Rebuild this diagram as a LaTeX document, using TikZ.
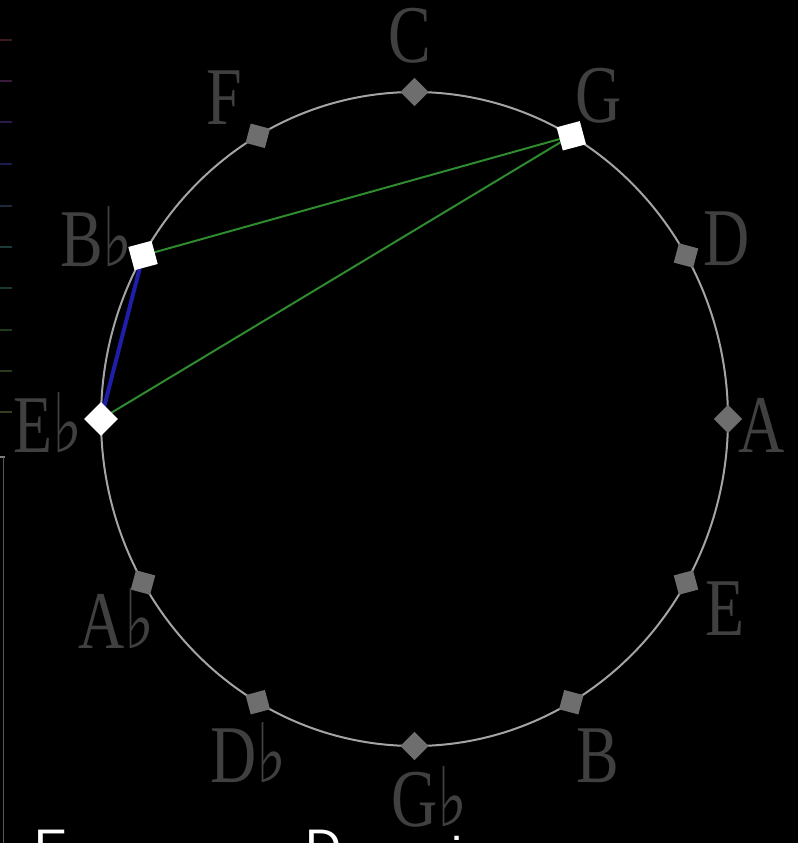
\documentclass[tikz,border=0pt]{standalone}
\usepackage{fontspec}
\setmainfont{Liberation Serif}
\newfontfamily\labfont[FakeStretch=0.78]{Liberation Serif}
\newfontfamily\flatfont[FakeStretch=0.78]{DejaVu Serif}
\newfontfamily\capfont{Liberation Sans}
\definecolor{labgray}{HTML}{404040}
\definecolor{mkgray}{HTML}{6E6E6E}
\definecolor{ringgray}{HTML}{A4A4A4}
\definecolor{chordgreen}{HTML}{2E8B2E}
\definecolor{chordblue}{HTML}{1E1EAA}
\newcommand\fl{{\flatfont\char"266D}}
\tikzset{
  pclabel/.style={text=labgray, font=\labfont\fontsize{82}{82}\selectfont, inner sep=0pt, anchor=base west},
  pcmark/.style={rectangle, fill=mkgray, minimum size=20pt, inner sep=0pt},
  pcsel/.style={rectangle, fill=white, minimum size=24pt, inner sep=0pt},
  ring/.style={draw=ringgray, line width=2pt},
  greenchord/.style={draw=chordgreen, line width=2pt},
  bluechord/.style={draw=chordblue, line width=4pt},
  captxt/.style={text=white, font=\capfont\fontsize{50}{50}\selectfont, inner sep=0pt, anchor=base west},
  tick/.style={line width=2pt}
}
\begin{document}
\begin{tikzpicture}[x=1pt,y=-1pt]
\useasboundingbox (0,0) rectangle (798,843);
\clip (0,0) rectangle (798,843);
\fill[black] (0,0) rectangle (798,843);
% left ticks
\foreach \yy/\cc in {40/3A1A1A,81/3A1A3A,122/2C1A4A,164/1C1C4C,206/1C2A3C,247/1C3A3A,288/1C3A2A,330/1C3A1C,371/2C3A1C,412/3A3A1C}{
  \definecolor{tc}{HTML}{\cc}
  \draw[tick, draw=tc] (0,\yy) -- (12,\yy);
}
\draw[line width=1.5pt, draw=gray] (0,457) -- (5,457);
\draw[line width=1.5pt, draw=gray!70!black] (3.5,457) -- (3.5,843);
% ring
\draw[ring] (414.5,419) ellipse [x radius=313.5pt, y radius=327pt];
% pitch coordinates
\coordinate (pC) at (414.5,92);
\coordinate (pG) at (571.3,135.8);
\coordinate (pD) at (686.0,255.5);
\coordinate (pA) at (728,419);
\coordinate (pE) at (686.0,582.5);
\coordinate (pB) at (571.3,702.2);
\coordinate (pGb) at (414.5,746);
\coordinate (pDb) at (257.8,702.2);
\coordinate (pAb) at (143.0,582.5);
\coordinate (pEb) at (101,419);
\coordinate (pBb) at (143.0,255.5);
\coordinate (pF) at (257.8,135.8);
% chords
\draw[greenchord] (pG) -- (pBb);
\draw[greenchord] (pG) -- (pEb);
\draw[bluechord] (pBb) -- (pEb);
% markers
\node[pcmark, rotate=135] (mC) at (pC) {};
\node[pcsel, rotate=105] (mG) at (pG) {};
\node[pcmark, rotate=75] (mD) at (pD) {};
\node[pcmark, rotate=45] (mA) at (pA) {};
\node[pcmark, rotate=15] (mE) at (pE) {};
\node[pcmark, rotate=-15] (mB) at (pB) {};
\node[pcmark, rotate=-45] (mGb) at (pGb) {};
\node[pcmark, rotate=-75] (mDb) at (pDb) {};
\node[pcmark, rotate=-105] (mAb) at (pAb) {};
\node[pcsel, rotate=225] (mEb) at (pEb) {};
\node[pcsel, rotate=195] (mBb) at (pBb) {};
\node[pcmark, rotate=165] (mF) at (pF) {};
% labels
\node[pclabel] (lC) at (388,63) {C};
\node[pclabel] (lG) at (575,122) {G};
\node[pclabel] (lD) at (703,265) {D};
\node[pclabel] (lA) at (738,452) {A};
\node[pclabel] (lE) at (705,635) {E};
\node[pclabel] (lB) at (576,782) {B};
\node[pclabel] (lGb) at (391,826) {G\fl};
\node[pclabel] (lDb) at (210,782) {D\fl};
\node[pclabel] (lAb) at (78,648) {A\fl};
\node[pclabel] (lEb) at (13,452) {E\fl};
\node[pclabel] (lBb) at (60,266) {B\fl};
\node[pclabel] (lF) at (206,124) {F};
% caption (cut off at bottom)
\node[captxt] (cE) at (34,864) {E};
\node[captxt] (cD) at (305,864) {D};
\node[captxt] (ci) at (451,872) {i};
\end{tikzpicture}
\end{document}
